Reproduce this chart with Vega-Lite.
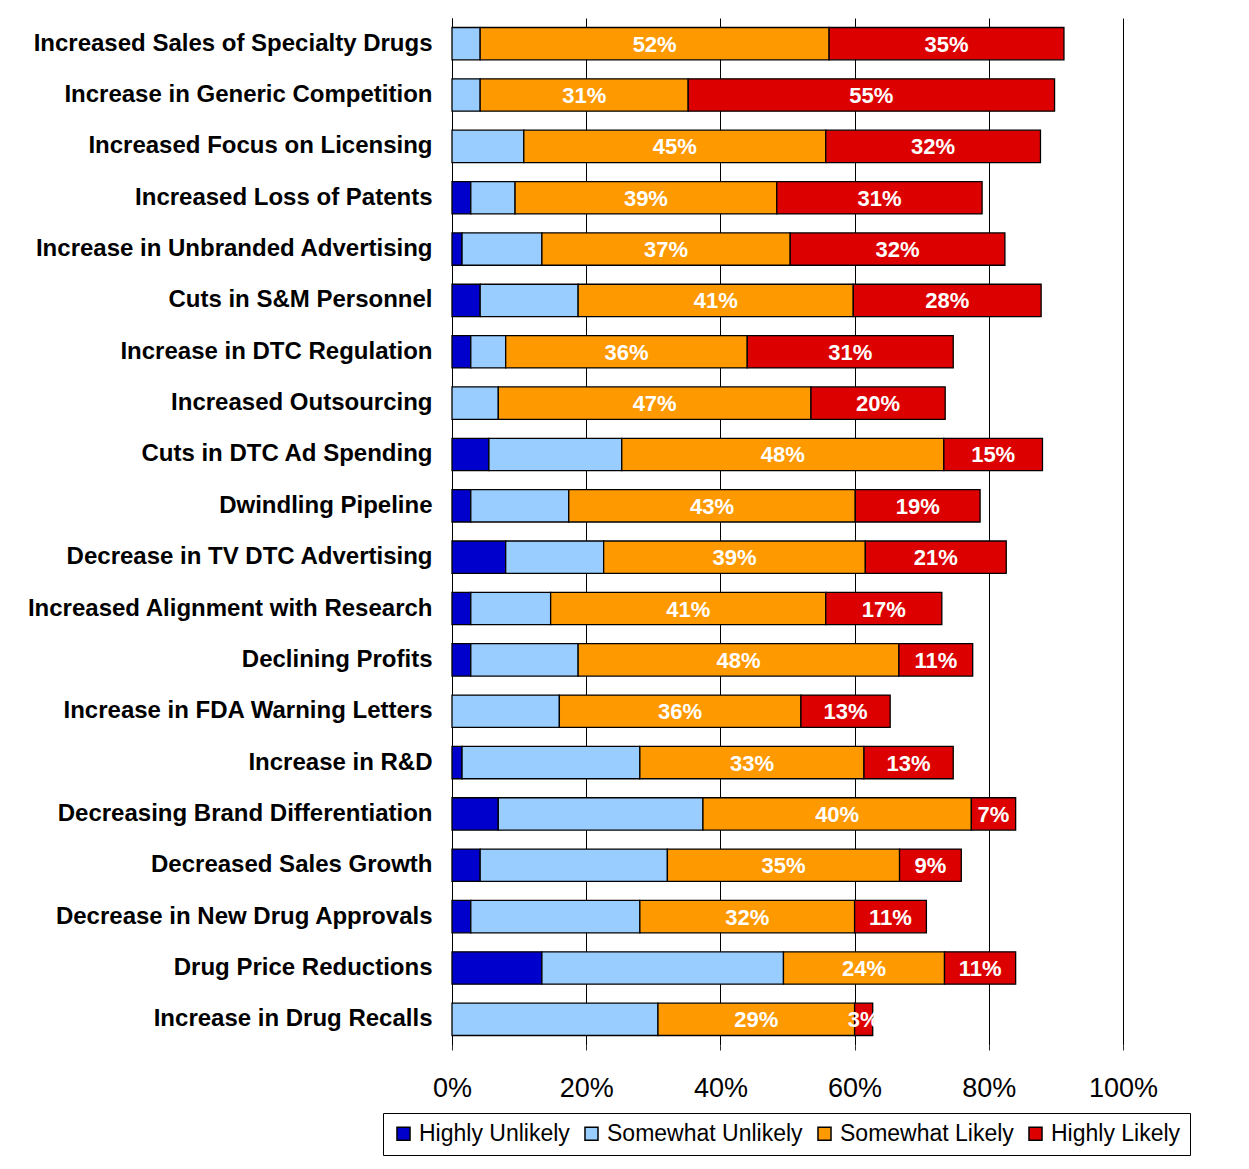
{
  "$schema": "https://vega.github.io/schema/vega-lite/v6.json",
  "width": 671,
  "height": 1027,
  "autosize": {"type": "none"},
  "padding": {"left": 452, "top": 18, "right": 126, "bottom": 124},
  "background": "white",
  "config": {"view": {"stroke": null}},
  "data": {"values": [
    {"cat": "Increased Sales of Specialty Drugs", "series": "Somewhat Unlikely", "k": 2, "v": 0.042},
    {"cat": "Increased Sales of Specialty Drugs", "series": "Somewhat Likely", "k": 3, "v": 0.52},
    {"cat": "Increased Sales of Specialty Drugs", "series": "Highly Likely", "k": 4, "v": 0.35},
    {"cat": "Increase in Generic Competition", "series": "Somewhat Unlikely", "k": 2, "v": 0.042},
    {"cat": "Increase in Generic Competition", "series": "Somewhat Likely", "k": 3, "v": 0.31},
    {"cat": "Increase in Generic Competition", "series": "Highly Likely", "k": 4, "v": 0.546},
    {"cat": "Increased Focus on Licensing", "series": "Somewhat Unlikely", "k": 2, "v": 0.107},
    {"cat": "Increased Focus on Licensing", "series": "Somewhat Likely", "k": 3, "v": 0.45},
    {"cat": "Increased Focus on Licensing", "series": "Highly Likely", "k": 4, "v": 0.32},
    {"cat": "Increased Loss of Patents", "series": "Highly Unlikely", "k": 1, "v": 0.028},
    {"cat": "Increased Loss of Patents", "series": "Somewhat Unlikely", "k": 2, "v": 0.066},
    {"cat": "Increased Loss of Patents", "series": "Somewhat Likely", "k": 3, "v": 0.39},
    {"cat": "Increased Loss of Patents", "series": "Highly Likely", "k": 4, "v": 0.306},
    {"cat": "Increase in Unbranded Advertising", "series": "Highly Unlikely", "k": 1, "v": 0.015},
    {"cat": "Increase in Unbranded Advertising", "series": "Somewhat Unlikely", "k": 2, "v": 0.119},
    {"cat": "Increase in Unbranded Advertising", "series": "Somewhat Likely", "k": 3, "v": 0.37},
    {"cat": "Increase in Unbranded Advertising", "series": "Highly Likely", "k": 4, "v": 0.32},
    {"cat": "Cuts in S&M Personnel", "series": "Highly Unlikely", "k": 1, "v": 0.042},
    {"cat": "Cuts in S&M Personnel", "series": "Somewhat Unlikely", "k": 2, "v": 0.146},
    {"cat": "Cuts in S&M Personnel", "series": "Somewhat Likely", "k": 3, "v": 0.41},
    {"cat": "Cuts in S&M Personnel", "series": "Highly Likely", "k": 4, "v": 0.28},
    {"cat": "Increase in DTC Regulation", "series": "Highly Unlikely", "k": 1, "v": 0.028},
    {"cat": "Increase in DTC Regulation", "series": "Somewhat Unlikely", "k": 2, "v": 0.052},
    {"cat": "Increase in DTC Regulation", "series": "Somewhat Likely", "k": 3, "v": 0.36},
    {"cat": "Increase in DTC Regulation", "series": "Highly Likely", "k": 4, "v": 0.307},
    {"cat": "Increased Outsourcing", "series": "Somewhat Unlikely", "k": 2, "v": 0.069},
    {"cat": "Increased Outsourcing", "series": "Somewhat Likely", "k": 3, "v": 0.466},
    {"cat": "Increased Outsourcing", "series": "Highly Likely", "k": 4, "v": 0.20},
    {"cat": "Cuts in DTC Ad Spending", "series": "Highly Unlikely", "k": 1, "v": 0.055},
    {"cat": "Cuts in DTC Ad Spending", "series": "Somewhat Unlikely", "k": 2, "v": 0.198},
    {"cat": "Cuts in DTC Ad Spending", "series": "Somewhat Likely", "k": 3, "v": 0.48},
    {"cat": "Cuts in DTC Ad Spending", "series": "Highly Likely", "k": 4, "v": 0.147},
    {"cat": "Dwindling Pipeline", "series": "Highly Unlikely", "k": 1, "v": 0.028},
    {"cat": "Dwindling Pipeline", "series": "Somewhat Unlikely", "k": 2, "v": 0.146},
    {"cat": "Dwindling Pipeline", "series": "Somewhat Likely", "k": 3, "v": 0.427},
    {"cat": "Dwindling Pipeline", "series": "Highly Likely", "k": 4, "v": 0.186},
    {"cat": "Decrease in TV DTC Advertising", "series": "Highly Unlikely", "k": 1, "v": 0.08},
    {"cat": "Decrease in TV DTC Advertising", "series": "Somewhat Unlikely", "k": 2, "v": 0.146},
    {"cat": "Decrease in TV DTC Advertising", "series": "Somewhat Likely", "k": 3, "v": 0.39},
    {"cat": "Decrease in TV DTC Advertising", "series": "Highly Likely", "k": 4, "v": 0.21},
    {"cat": "Increased Alignment with Research", "series": "Highly Unlikely", "k": 1, "v": 0.028},
    {"cat": "Increased Alignment with Research", "series": "Somewhat Unlikely", "k": 2, "v": 0.119},
    {"cat": "Increased Alignment with Research", "series": "Somewhat Likely", "k": 3, "v": 0.41},
    {"cat": "Increased Alignment with Research", "series": "Highly Likely", "k": 4, "v": 0.173},
    {"cat": "Declining Profits", "series": "Highly Unlikely", "k": 1, "v": 0.028},
    {"cat": "Declining Profits", "series": "Somewhat Unlikely", "k": 2, "v": 0.16},
    {"cat": "Declining Profits", "series": "Somewhat Likely", "k": 3, "v": 0.478},
    {"cat": "Declining Profits", "series": "Highly Likely", "k": 4, "v": 0.11},
    {"cat": "Increase in FDA Warning Letters", "series": "Somewhat Unlikely", "k": 2, "v": 0.16},
    {"cat": "Increase in FDA Warning Letters", "series": "Somewhat Likely", "k": 3, "v": 0.36},
    {"cat": "Increase in FDA Warning Letters", "series": "Highly Likely", "k": 4, "v": 0.133},
    {"cat": "Increase in R&D", "series": "Highly Unlikely", "k": 1, "v": 0.015},
    {"cat": "Increase in R&D", "series": "Somewhat Unlikely", "k": 2, "v": 0.265},
    {"cat": "Increase in R&D", "series": "Somewhat Likely", "k": 3, "v": 0.334},
    {"cat": "Increase in R&D", "series": "Highly Likely", "k": 4, "v": 0.133},
    {"cat": "Decreasing Brand Differentiation", "series": "Highly Unlikely", "k": 1, "v": 0.069},
    {"cat": "Decreasing Brand Differentiation", "series": "Somewhat Unlikely", "k": 2, "v": 0.305},
    {"cat": "Decreasing Brand Differentiation", "series": "Somewhat Likely", "k": 3, "v": 0.40},
    {"cat": "Decreasing Brand Differentiation", "series": "Highly Likely", "k": 4, "v": 0.066},
    {"cat": "Decreased Sales Growth", "series": "Highly Unlikely", "k": 1, "v": 0.042},
    {"cat": "Decreased Sales Growth", "series": "Somewhat Unlikely", "k": 2, "v": 0.279},
    {"cat": "Decreased Sales Growth", "series": "Somewhat Likely", "k": 3, "v": 0.346},
    {"cat": "Decreased Sales Growth", "series": "Highly Likely", "k": 4, "v": 0.092},
    {"cat": "Decrease in New Drug Approvals", "series": "Highly Unlikely", "k": 1, "v": 0.028},
    {"cat": "Decrease in New Drug Approvals", "series": "Somewhat Unlikely", "k": 2, "v": 0.252},
    {"cat": "Decrease in New Drug Approvals", "series": "Somewhat Likely", "k": 3, "v": 0.32},
    {"cat": "Decrease in New Drug Approvals", "series": "Highly Likely", "k": 4, "v": 0.107},
    {"cat": "Drug Price Reductions", "series": "Highly Unlikely", "k": 1, "v": 0.134},
    {"cat": "Drug Price Reductions", "series": "Somewhat Unlikely", "k": 2, "v": 0.36},
    {"cat": "Drug Price Reductions", "series": "Somewhat Likely", "k": 3, "v": 0.24},
    {"cat": "Drug Price Reductions", "series": "Highly Likely", "k": 4, "v": 0.106},
    {"cat": "Increase in Drug Recalls", "series": "Somewhat Unlikely", "k": 2, "v": 0.307},
    {"cat": "Increase in Drug Recalls", "series": "Somewhat Likely", "k": 3, "v": 0.293},
    {"cat": "Increase in Drug Recalls", "series": "Highly Likely", "k": 4, "v": 0.027}
  ]},
  "transform": [
    {"stack": "v", "groupby": ["cat"], "sort": [{"field": "k", "order": "ascending"}], "as": ["v0", "v1"]},
    {"calculate": "(datum.v0 + datum.v1) / 2", "as": "mid"}
  ],
  "encoding": {
    "y": {
      "field": "cat", "type": "nominal", "sort": null,
      "scale": {"paddingInner": 0.37, "paddingOuter": 0.185},
      "axis": {
        "title": null, "ticks": false, "domain": true, "domainColor": "black", "domainWidth": 1,
        "labelFont": "Liberation Sans", "labelFontWeight": "bold", "labelFontSize": 24,
        "labelColor": "black", "labelPadding": 20, "labelLimit": 500
      }
    }
  },
  "layer": [
    {
      "mark": {"type": "bar", "stroke": "black", "strokeWidth": 1.3},
      "encoding": {
        "x": {
          "field": "v0", "type": "quantitative",
          "scale": {"domain": [0, 1], "nice": false, "zero": true},
          "axis": {
            "title": null, "format": ".0%", "values": [0, 0.2, 0.4, 0.6, 0.8, 1],
            "grid": true, "gridColor": "#000000", "gridWidth": 1, "gridOpacity": 1,
            "domain": false, "ticks": true, "tickSize": 5, "tickColor": "#333333",
            "labelFont": "Liberation Sans", "labelFontSize": 27,
            "labelColor": "black", "labelPadding": 25, "labelFlush": false
          }
        },
        "x2": {"field": "v1"},
        "color": {
          "field": "series", "type": "nominal",
          "scale": {
            "domain": ["Highly Unlikely", "Somewhat Unlikely", "Somewhat Likely", "Highly Likely"],
            "range": ["#0000CC", "#99CCFF", "#FF9900", "#DD0000"]
          },
          "legend": {
            "orient": "none", "legendX": -69, "legendY": 1095,
            "direction": "horizontal", "title": null,
            "labelFont": "Liberation Sans", "labelFontSize": 23,
            "labelColor": "black", "labelLimit": 400,
            "symbolType": "square", "symbolSize": 170, "symbolStrokeColor": "black",
            "symbolStrokeWidth": 1.5, "symbolOpacity": 1,
            "strokeColor": "black", "padding": 9, "columnPadding": 10, "labelOffset": 4
          }
        }
      }
    },
    {
      "transform": [{"filter": "datum.k >= 3"}],
      "mark": {
        "type": "text", "color": "white", "font": "Liberation Sans",
        "fontWeight": "bold", "fontSize": 22, "align": "center", "baseline": "middle", "dy": 1
      },
      "encoding": {
        "x": {"field": "mid", "type": "quantitative"},
        "text": {"field": "v", "type": "quantitative", "format": ".0%"}
      }
    }
  ]
}
